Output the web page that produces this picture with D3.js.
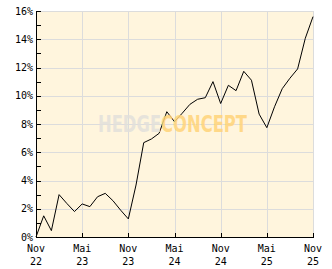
<!DOCTYPE html>
<html><head><meta charset="utf-8">
<script src="https://cdn.jsdelivr.net/npm/d3@7"></script>
<style>
html,body{margin:0;padding:0;background:#fff;}
svg{display:block;}
text{font-family:"DejaVu Sans Mono","Liberation Mono",monospace;font-size:10px;fill:#000;}
</style></head>
<body>
<svg id="c" width="332" height="269"></svg>
<script>
// monthly performance, Nov 2022 .. Nov 2025 (percent)
const months = ["Nov 22","Dec 22","Jan 23","Feb 23","Mar 23","Apr 23","May 23","Jun 23","Jul 23","Aug 23","Sep 23","Oct 23",
  "Nov 23","Dec 23","Jan 24","Feb 24","Mar 24","Apr 24","May 24","Jun 24","Jul 24","Aug 24","Sep 24","Oct 24",
  "Nov 24","Dec 24","Jan 25","Feb 25","Mar 25","Apr 25","May 25","Jun 25","Jul 25","Aug 25","Sep 25","Oct 25","Nov 25"];
const values = [0,1.5,0.45,3.0,2.38,1.8,2.34,2.15,2.85,3.09,2.57,1.9,
  1.28,3.68,6.68,6.94,7.34,8.87,8.16,8.76,9.39,9.75,9.86,11.0,
  9.45,10.74,10.36,11.73,11.1,8.7,7.74,9.22,10.5,11.24,11.9,14.07,15.6];
const xTickIndex = [0,6,12,18,24,30,36];
const xTickMonth = ["Nov","Mai","Nov","Mai","Nov","Mai","Nov"];
const xTickYear = ["22","23","23","24","24","25","25"];
const yTicks = [0,2,4,6,8,10,12,14,16];
const yMinorTicks = [1,3,5,7,9,11,13,15];

const L=36,R=313,T=11,B=237;
const svg=d3.select("#c");
const x=d3.scaleLinear().domain([0,months.length-1]).range([L,R]);
const y=d3.scaleLinear().domain([0,16]).range([B,T]);

svg.append("rect").attr("x",L).attr("y",T).attr("width",R-L).attr("height",B-T).attr("fill","#fff5dd");

const grid=svg.append("g").attr("shape-rendering","crispEdges").attr("stroke","#dcdcdc").attr("stroke-width",1);
grid.selectAll("line.h").data(yTicks.filter(d=>d>0)).join("line").attr("class","h")
  .attr("x1",L).attr("x2",R).attr("y1",d=>Math.round(y(d))+0.5).attr("y2",d=>Math.round(y(d))+0.5);
grid.selectAll("line.v").data(xTickIndex.filter(d=>d>0)).join("line").attr("class","v")
  .attr("y1",T).attr("y2",B).attr("x1",d=>Math.round(x(d))+0.5).attr("x2",d=>Math.round(x(d))+0.5);

// line
const line=d3.line().x((d,i)=>x(i)).y(d=>y(d));
svg.append("path").datum(values).attr("d",line).attr("fill","none").attr("stroke","#000").attr("stroke-width",1);

// watermark (single text, two-colour fill via hard-stop gradient)
const g=svg.append("defs").append("linearGradient").attr("id","wmg").attr("gradientUnits","userSpaceOnUse")
  .attr("x1",98).attr("x2",247).attr("y1",0).attr("y2",0);
g.append("stop").attr("offset",0.413).attr("stop-color","#e2e0db");
g.append("stop").attr("offset",0.413).attr("stop-color","#ffd47a");
svg.append("text").attr("x",98).attr("y",132).attr("textLength",149).attr("lengthAdjust","spacingAndGlyphs")
  .style("font-family","'DejaVu Sans Condensed','DejaVu Sans',sans-serif").style("font-weight","bold")
  .style("font-size","23px").style("fill","url(#wmg)").attr("opacity",0.85).text("HEDGECONCEPT");

// axes
const ax=svg.append("g").attr("shape-rendering","crispEdges").attr("stroke","#000");
ax.append("line").attr("x1",L+0.5).attr("x2",L+0.5).attr("y1",T).attr("y2",B+1);
ax.append("line").attr("x1",L).attr("x2",R+1).attr("y1",B+0.5).attr("y2",B+0.5);
ax.selectAll("line.yt").data(yTicks.concat(yMinorTicks)).join("line").attr("class","yt")
  .attr("x1",L).attr("x2",L+5).attr("y1",d=>Math.round(y(d))+0.5).attr("y2",d=>Math.round(y(d))+0.5);
ax.selectAll("line.xt").data(xTickIndex).join("line").attr("class","xt")
  .attr("x1",d=>Math.round(x(d))+0.5).attr("x2",d=>Math.round(x(d))+0.5).attr("y1",B-4).attr("y2",B);

svg.selectAll("text.yl").data(yTicks).join("text").attr("class","yl")
  .attr("x",33).attr("y",d=>y(d)+3.5).attr("text-anchor","end").text(d=>d+"%");
svg.selectAll("text.xm").data(xTickIndex).join("text").attr("class","xm")
  .attr("x",d=>x(d)).attr("y",252).attr("text-anchor","middle").text((d,i)=>xTickMonth[i]);
svg.selectAll("text.xy").data(xTickIndex).join("text").attr("class","xy")
  .attr("x",d=>x(d)).attr("y",265).attr("text-anchor","middle").text((d,i)=>xTickYear[i]);
</script>
</body></html>
